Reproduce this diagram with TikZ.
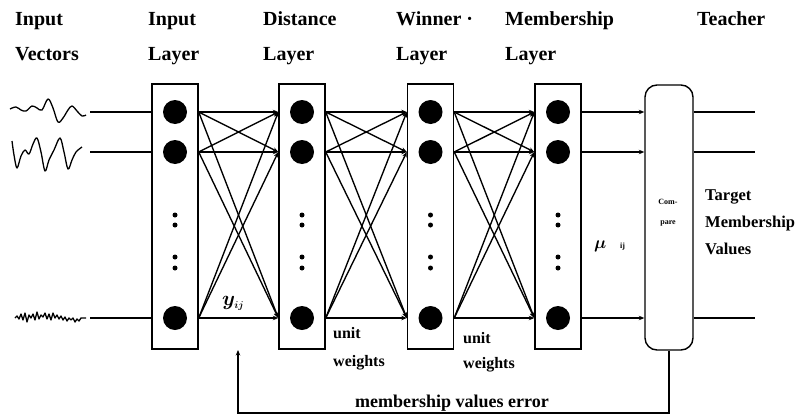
\documentclass[tikz,border=0pt]{standalone}
\usepackage{fontspec}
\usepackage{bm}
\setmainfont{Liberation Serif}
\usetikzlibrary{arrows.meta}
\begin{document}
\begin{tikzpicture}[x=1pt,y=-1pt,
  layerbox/.style={draw, line width=1.4pt, minimum width=46pt, minimum height=265pt, inner sep=0pt},
  cmpbox/.style={draw, line width=1.4pt, rounded corners=12pt, minimum width=48pt, minimum height=265pt, inner sep=0pt},
  neuron/.style={circle, fill=black, minimum size=24pt, inner sep=0pt},
  dotmark/.style={circle, fill=black, minimum size=5pt, inner sep=0pt},
  wire/.style={line width=1.35pt},
  link/.style={wire, -{Stealth[length=5.5pt,width=4.5pt]}},
  signal/.style={line width=1.3pt, line join=round},
  hdr/.style={font=\fontsize{20}{22}\selectfont\bfseries, inner sep=0pt, anchor=base west},
  lbl/.style={font=\fontsize{16.5}{18}\selectfont\bfseries, inner sep=0pt, anchor=base west},
  note/.style={font=\fontsize{16}{18}\selectfont\bfseries, inner sep=0pt, anchor=base west},
  tinytxt/.style={font=\fontsize{8}{9}\selectfont\bfseries, inner sep=0pt, anchor=base}]
\useasboundingbox (0,0) rectangle (802,415);

% column headings
\node[hdr] (hIV1) at (15,25) {Input};
\node[hdr] (hIV2) at (15,60) {Vectors};
\node[hdr] (hIL1) at (148,25) {Input};
\node[hdr] (hIL2) at (148,60) {Layer};
\node[hdr] (hDL1) at (263,25) {Distance};
\node[hdr] (hDL2) at (263,60) {Layer};
\node[hdr] (hWL1) at (396,25) {Winner ·};
\node[hdr] (hWL2) at (396,60) {Layer};
\node[hdr] (hML1) at (505,25) {Membership};
\node[hdr] (hML2) at (505,60) {Layer};
\node[hdr] (hT) at (697,25) {Teacher};

% layer boxes
\node[layerbox] (boxI) at (175,216.5) {};
\node[layerbox] (boxD) at (302,216.5) {};
\node[layerbox] (boxW) at (430.5,216.5) {};
\node[layerbox] (boxM) at (558,216.5) {};
\node[cmpbox] (cmp) at (669,217.5) {};

% neurons and ellipsis dots
\foreach \L/\cx in {I/175, D/302, W/430.5, M/558} {
  \node[neuron] (\L1) at (\cx,112) {};
  \node[neuron] (\L2) at (\cx,152) {};
  \node[neuron] (\L3) at (\cx,318) {};
  \foreach \dy [count=\k] in {215,225,257,268}
    \node[dotmark] (\L dot\k) at (\cx,\dy) {};
}

% full connections between successive layers
\foreach \a/\b in {I/D, D/W, W/M}
  \foreach \r in {1,2,3}
    \foreach \s in {1,2,3}
      \draw[link] (box\a.east |- \a\r) -- (box\b.west |- \b\s);

% input signals
\foreach \r in {1,2,3} {
  \coordinate (v\r) at (90,0 |- I\r);
  \draw[wire] (v\r) -- (boxI.west |- I\r);
}
\draw[signal] plot[smooth, tension=0.6] coordinates {(10,109) (16,107) (21,110) (26,111) (32,106) (37,108) (42,110) (48,99) (53,108) (58,122) (63,118) (68,110) (72,106) (77,111) (82,116) (86,115)};
\draw[signal] plot[smooth, tension=0.55] coordinates {(12,141) (14,155) (17,168) (21,156) (25,150) (29,154) (33,144) (37,138) (41,152) (45,171) (49,160) (54,150) (60,138) (64,152) (68,169) (72,160) (76,152) (82,147)};
\draw[signal] plot coordinates {(15,318) (17,316) (19,319) (21,314) (23,320) (25,313) (27,322) (29,315) (31,318) (33,314) (35,320) (37,312) (39,319) (41,315) (43,317) (45,313) (47,319) (49,314) (51,320) (53,313) (55,318) (57,315) (59,319) (61,316) (63,320) (65,317) (67,321) (69,318) (71,320) (73,318) (75,322) (77,319) (79,321) (81,318) (86,318)};

% membership outputs into the comparator, targets out of it
\foreach \r in {1,2,3} {
  \draw[link] (boxM.east |- M\r) -- (cmp.west |- M\r);
  \coordinate (t\r) at (755,0 |- M\r);
  \draw[wire] (cmp.east |- t\r) -- (t\r);
}

% error feedback loop
\coordinate (fbB) at (238,413);
\coordinate (fbT) at (238,350);
\draw[wire, -{Stealth[length=5.5pt,width=4.5pt]}] (cmp.south) -- (cmp.south |- fbB) -- (fbB) -- (fbT);

% labels
\node[anchor=base west, inner sep=0pt, font=\fontsize{20}{22}\selectfont] (yij) at (222,305) {$\bm{y}_{\scriptscriptstyle\bm{ij}}$};
\node[note] (uw1a) at (333,338) {unit};
\node[note] (uw1b) at (333,366) {weights};
\node[note] (uw2a) at (463,343) {unit};
\node[note] (uw2b) at (463,368) {weights};
\node[anchor=base west, inner sep=0pt, font=\fontsize{19}{21}\selectfont] (mu) at (594,248) {$\bm{\mu}$};
\node[anchor=base west, inner sep=0pt, font=\fontsize{8}{9}\selectfont\bfseries] (muij) at (620,248) {ij};
\node[tinytxt] (cmp1) at (668,204) {Com-};
\node[tinytxt] (cmp2) at (668,224) {pare};
\node[lbl] (tg1) at (705,200) {Target};
\node[lbl] (tg2) at (705,227) {Membership};
\node[lbl] (tg3) at (705,254) {Values};
\node[font=\fontsize{18}{20}\selectfont\bfseries, inner sep=0pt, anchor=base] (err) at (452,407) {membership values error};
\end{tikzpicture}
\end{document}
